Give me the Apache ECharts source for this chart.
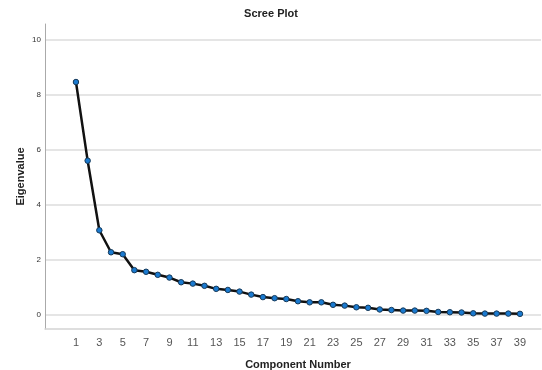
<!DOCTYPE html>
<html><head><meta charset="utf-8">
<script src="https://cdn.jsdelivr.net/npm/echarts@6/dist/echarts.min.js"></script>
<style>html,body{margin:0;padding:0;background:#fff}#c{width:542px;height:370px}</style>
</head><body><div id="c"></div>
<script>
const components = Array.from({length: 39}, (_, i) => i + 1);
const eigenvalues = [8.45, 5.59, 3.06, 2.26, 2.19, 1.61, 1.55, 1.44, 1.34, 1.17,
  1.12, 1.04, 0.93, 0.89, 0.83, 0.72, 0.63, 0.59, 0.56, 0.48,
  0.44, 0.44, 0.35, 0.32, 0.26, 0.24, 0.18, 0.16, 0.14, 0.14,
  0.13, 0.09, 0.08, 0.07, 0.04, 0.03, 0.03, 0.03, 0.02];
const xTickLabels = [1,3,5,7,9,11,13,15,17,19,21,23,25,27,29,31,33,35,37,39];
const yTickLabels = [0,2,4,6,8,10];

const chart = echarts.init(document.getElementById('c'), null, {renderer: 'canvas'});
chart.setOption({
  animation: false,
  backgroundColor: '#fff',
  title: {
    text: 'Scree Plot', left: 'center', top: 3,
    textStyle: {fontFamily: 'Liberation Sans', fontSize: 11, fontWeight: 'bold', color: '#222'}
  },
  grid: {left: 45, right: 1, top: 24, bottom: 41, containLabel: false, outerBoundsMode: 'none'},
  xAxis: {
    type: 'value', min: -1.65, max: 40.8,
    name: 'Component Number', nameLocation: 'middle', nameGap: 30, nameMoveOverlap: false,
    nameTextStyle: {fontFamily: 'Liberation Sans', fontSize: 11, fontWeight: 'bold', color: '#222', padding: [0, 0, 0, 10]},
    axisLine: {show: true, onZero: false, lineStyle: {color: '#d4d4d4', width: 1.5}},
    axisTick: {show: false, customValues: xTickLabels},
    axisLabel: {customValues: xTickLabels, margin: 8, fontFamily: 'Liberation Sans', fontSize: 11, color: '#555'},
    splitLine: {show: false}
  },
  yAxis: {
    type: 'value', min: -0.53, max: 10.56,
    name: 'Eigenvalue', nameLocation: 'middle', nameGap: 19, nameRotate: 90, nameMoveOverlap: false,
    nameTextStyle: {fontFamily: 'Liberation Sans', fontSize: 11, fontWeight: 'bold', color: '#222'},
    axisLine: {show: true, onZero: false, lineStyle: {color: '#aaa', width: 1}},
    axisTick: {show: false, customValues: yTickLabels},
    axisLabel: {customValues: yTickLabels, margin: 4, fontFamily: 'Liberation Sans', fontSize: 8, color: '#333'},
    splitLine: {show: true, lineStyle: {color: '#dcdcdc', width: 1.5}}
  },
  series: [{
    type: 'line',
    data: components.map((c, i) => [c, eigenvalues[i]]),
    symbol: 'circle', symbolSize: 5.5,
    lineStyle: {color: '#111', width: 2.5},
    itemStyle: {color: '#1a7ad0', borderColor: '#163a5a', borderWidth: 1},
    z: 3
  }]
});
</script></body></html>
